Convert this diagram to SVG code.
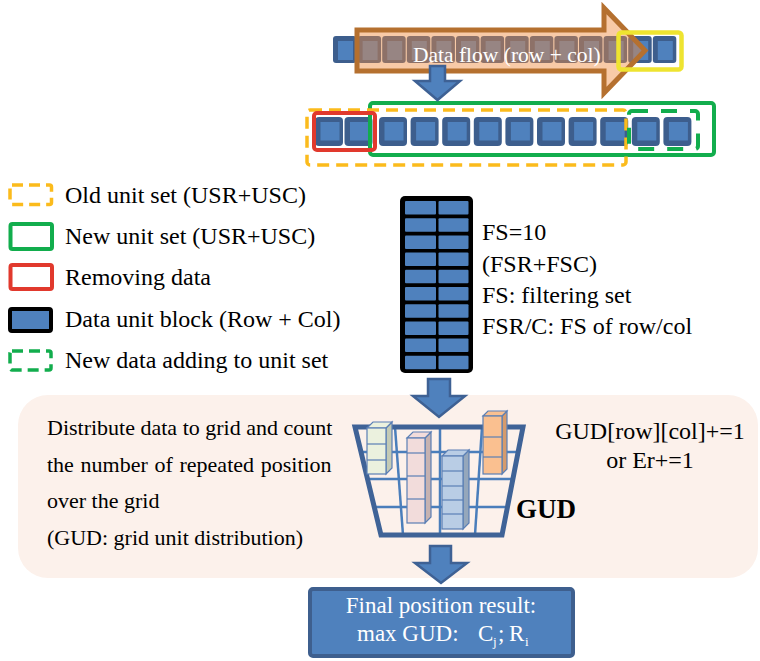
<svg xmlns="http://www.w3.org/2000/svg" width="760" height="661" viewBox="0 0 760 661">
  <style>
    .t { font-family: 'Liberation Serif', 'DejaVu Serif', serif; fill: #000; }
    .w { font-family: 'Liberation Serif', 'DejaVu Serif', serif; fill: #fff; }
    .blk { fill: #3d5e8d; }
    .blkIn { fill: #4f81bd; }
    .barEdge { stroke: #5a7fb5; stroke-width: 1.2; }
    .grid { stroke: #4a7ebb; stroke-width: 2.5; fill: none; }
    .conn { fill: #4f81bd; stroke: #3e6194; stroke-width: 2.5; stroke-linejoin: miter; }
  </style>
  <defs>
    <g id="b1">
      <rect class="blk" x="0" y="0" width="23.5" height="27" rx="3"/>
      <rect class="blkIn" x="5" y="5" width="15" height="19"/>
    </g>
    <g id="b2">
      <rect class="blk" x="0" y="0" width="28" height="29" rx="4"/>
      <rect class="blkIn" x="5.5" y="5" width="19" height="18.5"/>
    </g>
  </defs>

  <rect width="760" height="661" fill="#ffffff"/>

  <!-- incoming data stream -->
  <g id="stream">
    <use href="#b1" x="333" y="36"/>
    <use href="#b1" x="357.6" y="36"/>
    <use href="#b1" x="382.2" y="36"/>
    <use href="#b1" x="406.8" y="36"/>
    <use href="#b1" x="431.4" y="36"/>
    <use href="#b1" x="456" y="36"/>
    <use href="#b1" x="480.6" y="36"/>
    <use href="#b1" x="505.2" y="36"/>
    <use href="#b1" x="529.8" y="36"/>
    <use href="#b1" x="554.4" y="36"/>
    <use href="#b1" x="579" y="36"/>
    <use href="#b1" x="603.6" y="36"/>
    <use href="#b1" x="628.2" y="36"/>
    <use href="#b1" x="652.8" y="36"/>
  </g>

  <!-- data flow arrow -->
  <g id="dataflow">
    <path d="M357,30 L604,30 L604,8 L645,50.5 L604,93 L604,71 L357,71 Z" fill="#f08a3c" fill-opacity="0.45" stroke="#b5702f" stroke-width="5" stroke-linejoin="miter"/>
    <rect x="618.5" y="32.5" width="63" height="37" rx="3" fill="none" stroke="#eee430" stroke-width="4.5"/>
    <text class="w" x="413" y="62" font-size="21.5">Data flow (row + col)</text>
  </g>

  <!-- unit set row -->
  <g id="unitset">
    <use href="#b2" x="315" y="117"/>
    <use href="#b2" x="344.5" y="117"/>
    <use href="#b2" x="379" y="117"/>
    <use href="#b2" x="410.6" y="117"/>
    <use href="#b2" x="442.2" y="117"/>
    <use href="#b2" x="473.8" y="117"/>
    <use href="#b2" x="505.4" y="117"/>
    <use href="#b2" x="537" y="117"/>
    <use href="#b2" x="568.6" y="117"/>
    <use href="#b2" x="600.2" y="117"/>
    <use href="#b2" x="631.8" y="117"/>
    <use href="#b2" x="663.4" y="117"/>
    <rect x="370" y="103" width="344" height="52" rx="3" fill="none" stroke="#12ad4d" stroke-width="4"/>
    <rect x="307" y="110" width="319" height="55" rx="3" fill="none" stroke="#fbbb1c" stroke-width="3.5" stroke-dasharray="12 7"/>
    <rect x="629" y="111" width="69" height="38" rx="3" fill="none" stroke="#12ad4d" stroke-width="4" stroke-dasharray="16 13"/>
    <rect x="314" y="113" width="61" height="37" rx="3" fill="none" stroke="#e1392d" stroke-width="4"/>
  </g>

  <!-- legend -->
  <g id="legend">
    <rect x="10" y="185" width="41.5" height="19.5" rx="2" fill="none" stroke="#fbbb1c" stroke-width="3.5" stroke-dasharray="11 6"/>
    <text class="t" x="65" y="203" font-size="24">Old unit set (USR+USC)</text>
    <rect x="10.5" y="224" width="41.5" height="25" rx="2" fill="none" stroke="#12ad4d" stroke-width="4"/>
    <text class="t" x="65" y="244" font-size="24">New unit set (USR+USC)</text>
    <rect x="10.5" y="265" width="41.5" height="24" rx="2" fill="none" stroke="#e1392d" stroke-width="4"/>
    <text class="t" x="65" y="285" font-size="24">Removing data</text>
    <rect x="10" y="309" width="41" height="22" rx="2" fill="#4f81bd" stroke="#000" stroke-width="4"/>
    <text class="t" x="65" y="327" font-size="24">Data unit block (Row + Col)</text>
    <rect x="10" y="351" width="41" height="19" rx="2" fill="none" stroke="#12ad4d" stroke-width="3.5" stroke-dasharray="11 6"/>
    <text class="t" x="65" y="368" font-size="24">New data adding to unit set</text>
  </g>

  <!-- filtering set block -->
  <g id="filterset">
    <rect x="400" y="196" width="73" height="177" rx="5" fill="#000"/>
    <g fill="#4f81bd">
      <rect x="405" y="201" width="31" height="13.5" rx="1"/><rect x="438.5" y="201" width="30" height="13.5" rx="1"/>
      <rect x="405" y="218.2" width="31" height="13.5" rx="1"/><rect x="438.5" y="218.2" width="30" height="13.5" rx="1"/>
      <rect x="405" y="235.4" width="31" height="13.5" rx="1"/><rect x="438.5" y="235.4" width="30" height="13.5" rx="1"/>
      <rect x="405" y="252.6" width="31" height="13.5" rx="1"/><rect x="438.5" y="252.6" width="30" height="13.5" rx="1"/>
      <rect x="405" y="269.8" width="31" height="13.5" rx="1"/><rect x="438.5" y="269.8" width="30" height="13.5" rx="1"/>
      <rect x="405" y="287" width="31" height="13.5" rx="1"/><rect x="438.5" y="287" width="30" height="13.5" rx="1"/>
      <rect x="405" y="304.2" width="31" height="13.5" rx="1"/><rect x="438.5" y="304.2" width="30" height="13.5" rx="1"/>
      <rect x="405" y="321.4" width="31" height="13.5" rx="1"/><rect x="438.5" y="321.4" width="30" height="13.5" rx="1"/>
      <rect x="405" y="338.6" width="31" height="13.5" rx="1"/><rect x="438.5" y="338.6" width="30" height="13.5" rx="1"/>
      <rect x="405" y="355.8" width="31" height="13.5" rx="1"/><rect x="438.5" y="355.8" width="30" height="13.5" rx="1"/>
    </g>
    <text class="t" x="482" y="240" font-size="24">FS=10</text>
    <text class="t" x="482" y="272" font-size="24">(FSR+FSC)</text>
    <text class="t" x="482" y="303" font-size="24">FS: filtering set</text>
    <text class="t" x="482" y="334" font-size="24">FSR/C: FS of row/col</text>
  </g>

  <!-- grid distribution panel -->
  <g id="gud-panel">
    <rect x="18" y="395" width="740" height="183" rx="30" fill="#fcf1eb"/>
    <text class="t" x="47" y="435" font-size="22">Distribute data to grid and count</text>
    <text class="t" x="47" y="472" font-size="22" word-spacing="1.2">the number of repeated position</text>
    <text class="t" x="47" y="508" font-size="22">over the grid</text>
    <text class="t" x="47" y="545" font-size="22">(GUD: grid unit distribution)</text>

    <!-- basket grid -->
    <g id="basket">
      <line class="grid" x1="359" y1="452" x2="519" y2="452"/>
      <line class="grid" x1="366" y1="479" x2="512" y2="479"/>
      <line class="grid" x1="373" y1="507" x2="505" y2="507"/>
      <line class="grid" x1="395" y1="427" x2="403" y2="535"/>
      <line class="grid" x1="440" y1="427" x2="440" y2="535"/>
      <line class="grid" x1="482" y1="427" x2="475" y2="535"/>
      <path d="M355,427 L523,427 L502,535 L381,535 Z" fill="none" stroke="#3f6397" stroke-width="5" stroke-linejoin="miter"/>
    </g>

    <!-- stacked bars -->
    <g id="bar-green" class="barEdge">
      <path d="M386,428 L392,422 L392,468 L386,474 Z" fill="#c3cab5"/>
      <path d="M367,428 L373,422 L392,422 L386,428 Z" fill="#ebf1de"/>
      <rect x="367" y="428" width="19" height="46" fill="#ebf1de"/>
      <line x1="367" y1="444" x2="386" y2="444"/>
      <line x1="367" y1="460" x2="386" y2="460"/>
    </g>
    <g id="bar-pink" class="barEdge">
      <path d="M425,438 L431,432 L431,517 L425,523 Z" fill="#c6b2b1"/>
      <path d="M407,438 L413,432 L431,432 L425,438 Z" fill="#f2dcdb"/>
      <rect x="407" y="438" width="18" height="85" fill="#f2dcdb"/>
      <line x1="407" y1="453" x2="425" y2="453"/>
      <line x1="407" y1="476" x2="425" y2="476"/>
      <line x1="407" y1="499" x2="425" y2="499"/>
    </g>
    <g id="bar-blue" class="barEdge">
      <path d="M463,456 L469,450 L469,523 L463,529 Z" fill="#95a7bb"/>
      <path d="M442,456 L448,450 L469,450 L463,456 Z" fill="#b9cde5"/>
      <rect x="442" y="456" width="21" height="73" fill="#b9cde5"/>
      <line x1="442" y1="471" x2="463" y2="471"/>
      <line x1="442" y1="486" x2="463" y2="486"/>
      <line x1="442" y1="500" x2="463" y2="500"/>
      <line x1="442" y1="514" x2="463" y2="514"/>
    </g>
    <g id="bar-orange" class="barEdge">
      <path d="M502,416 L507,411 L507,469 L502,474 Z" fill="#d69b6c"/>
      <path d="M483,416 L488,411 L507,411 L502,416 Z" fill="#fac090"/>
      <rect x="483" y="416" width="19" height="58" fill="#fac090"/>
      <line x1="483" y1="437" x2="502" y2="437"/>
      <line x1="483" y1="457" x2="502" y2="457"/>
    </g>

    <text class="t" x="516" y="518" font-size="27" font-weight="bold">GUD</text>
    <text class="t" x="650" y="439" font-size="24" text-anchor="middle">GUD[row][col]+=1</text>
    <text class="t" x="650" y="468" font-size="24" text-anchor="middle">or Er+=1</text>
  </g>

  <!-- result -->
  <g id="result">
    <rect x="310" y="589" width="263" height="67" rx="3" fill="#4f81bd" stroke="#3e5f8e" stroke-width="4"/>
    <text class="w" x="441" y="613" font-size="23" text-anchor="middle">Final position result:</text>
    <text class="w" x="357" y="641" font-size="23">max GUD:</text>
    <text class="w" x="478" y="641" font-size="23">C</text>
    <text class="w" x="493" y="646" font-size="13">j</text>
    <text class="w" x="498" y="641" font-size="23">;</text>
    <text class="w" x="509" y="641" font-size="23">R</text>
    <text class="w" x="525" y="646" font-size="13">i</text>
  </g>

  <!-- connectors -->
  <g id="connectors">
    <path class="conn" d="M430,66 H445 V81 H460 L437.5,100 L415,81 H430 Z"/>
    <path class="conn" d="M428,379 H450 V396 H465 L439,417 L413,396 H428 Z"/>
    <path class="conn" d="M430,546 H451 V563 H467 L441,583 L415,563 H430 Z"/>
  </g>
</svg>
